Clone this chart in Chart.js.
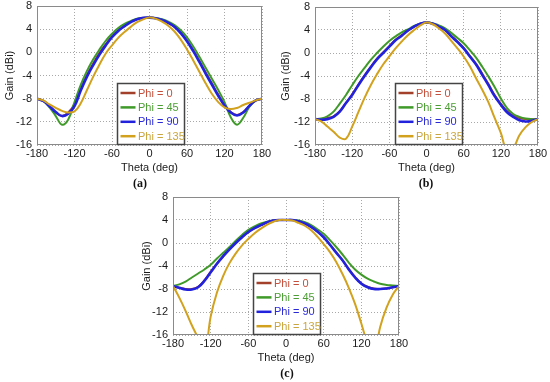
<!DOCTYPE html>
<html><head><meta charset="utf-8">
<script src="https://cdn.jsdelivr.net/npm/chart.js@4"></script>
<style>
html,body{margin:0;padding:0;background:#fff;width:550px;height:382px;overflow:hidden;position:relative;}
canvas{position:absolute;}
.cap{position:absolute;font-family:"Liberation Serif","Times New Roman",serif;font-size:12px;font-weight:bold;color:#111;transform:translate(-50%,-50%);white-space:nowrap;}
</style></head><body>
<canvas id="ca" width="275" height="190" style="left:0;top:0"></canvas>
<canvas id="cb" width="275" height="190" style="left:275px;top:0"></canvas>
<canvas id="cc" width="280" height="192" style="left:130px;top:190px"></canvas>
<div class="cap" style="left:140px;top:183px">(a)</div>
<div class="cap" style="left:426px;top:183px">(b)</div>
<div class="cap" style="left:287px;top:373px">(c)</div>
<script>
const theta = [-180,-170,-160,-150,-140,-130,-120,-110,-100,-90,-80,-70,-60,-50,-40,-30,-20,-10,0,10,20,30,40,50,60,70,80,90,100,110,120,130,140,150,160,170,180];
const xTicks = [-180,-120,-60,0,60,120,180];
const yTicks = [-16,-12,-8,-4,0,4,8];
const seriesLabels = ["Phi = 0","Phi = 45","Phi = 90","Phi = 135"];

// (a)
const a_phi0   = [-8.0,-8.4,-9.3,-10.4,-11.0,-10.4,-8.9,-6.3,-3.9,-1.9,-0.1,1.4,2.8,3.8,4.6,5.3,5.7,5.95,6.0,5.9,5.6,5.1,4.4,3.4,2.0,0.4,-1.5,-3.5,-5.4,-7.3,-9.0,-10.3,-10.8,-10.3,-9.2,-8.3,-8.0];
const a_phi45  = [-8.0,-8.4,-9.5,-11.0,-12.5,-11.6,-8.6,-5.6,-3.2,-1.2,0.5,2.0,3.2,4.2,4.9,5.4,5.8,5.95,6.0,5.9,5.7,5.3,4.7,3.8,2.6,1.0,-0.8,-2.7,-4.6,-6.5,-8.6,-11.2,-12.5,-11.3,-9.4,-8.3,-8.0];
const a_phi90  = [-8.0,-8.4,-9.3,-10.3,-11.0,-10.6,-9.3,-6.6,-4.2,-2.2,-0.4,1.2,2.6,3.7,4.5,5.2,5.7,5.95,6.0,5.9,5.6,5.1,4.4,3.3,1.9,0.2,-1.7,-3.7,-5.6,-7.5,-9.2,-10.4,-10.9,-10.4,-9.2,-8.3,-8.0];
const a_phi135 = [-8.0,-8.3,-9.0,-9.6,-10.1,-10.4,-10.2,-8.8,-6.5,-4.2,-2.1,-0.2,1.2,2.5,3.5,4.4,5.2,5.7,6.0,5.8,5.3,4.6,3.6,2.2,0.5,-1.4,-3.4,-5.4,-7.2,-8.6,-9.5,-9.8,-9.6,-9.1,-8.7,-8.3,-8.0];
// (b)
const b_phi0   = [-11.5,-11.5,-11.3,-11.0,-10.1,-8.7,-7.2,-5.5,-3.9,-2.4,-1.0,0.1,1.2,2.3,3.1,3.9,4.6,5.1,5.3,5.1,4.6,4.0,3.0,2.0,0.9,-0.5,-1.9,-3.6,-5.4,-7.3,-8.8,-10.1,-10.9,-11.3,-11.5,-11.5,-11.5];
const b_phi45  = [-11.5,-11.4,-11.0,-10.2,-8.8,-7.3,-5.6,-4.0,-2.6,-1.2,0.0,1.1,2.1,2.9,3.6,4.1,4.7,5.1,5.3,5.2,4.8,4.3,3.5,2.6,1.7,0.5,-0.8,-2.4,-4.1,-5.9,-7.9,-9.6,-10.6,-11.1,-11.4,-11.5,-11.5];
const b_phi90  = [-11.5,-11.6,-11.5,-11.1,-10.2,-8.7,-7.3,-5.6,-4.0,-2.5,-1.1,0.0,1.1,2.2,3.0,3.9,4.6,5.1,5.3,5.1,4.6,4.0,2.9,1.9,0.8,-0.6,-2.0,-3.8,-5.6,-7.5,-9.0,-10.3,-11.1,-11.7,-11.9,-11.8,-11.5];
const b_phi135 = [-11.5,-11.9,-12.8,-13.7,-14.7,-14.9,-12.8,-10.3,-7.8,-5.6,-3.7,-2.0,-0.6,0.8,2.0,3.1,4.0,4.8,5.3,5.0,4.3,3.4,2.1,0.8,-0.6,-2.3,-4.4,-6.4,-8.6,-11.3,-13.9,-17.0,-16.5,-14.3,-12.9,-12.0,-11.5];
// (c)
const c_phi0   = [-7.5,-7.8,-8.0,-8.0,-7.6,-6.5,-5.0,-3.6,-2.3,-1.1,0.0,1.0,1.9,2.6,3.1,3.6,3.9,4.0,4.0,4.0,3.8,3.4,2.8,2.0,1.0,-0.3,-1.6,-3.0,-4.5,-5.9,-7.0,-7.6,-7.9,-8.0,-7.9,-7.7,-7.5];
const c_phi45  = [-7.5,-7.2,-6.7,-6.0,-5.3,-4.6,-3.8,-2.7,-1.7,-0.7,0.4,1.4,2.3,2.9,3.4,3.7,3.9,4.0,4.0,4.0,3.9,3.6,3.1,2.4,1.6,0.5,-0.7,-2.0,-3.4,-4.6,-5.5,-6.2,-6.7,-7.1,-7.3,-7.4,-7.5];
const c_phi90  = [-7.5,-7.8,-8.1,-8.1,-7.7,-6.6,-5.1,-3.6,-2.3,-1.1,0.0,1.0,1.9,2.6,3.1,3.6,3.9,4.0,4.0,4.0,3.8,3.4,2.8,2.0,1.0,-0.3,-1.7,-3.0,-4.6,-6.0,-7.1,-7.7,-8.0,-8.0,-7.9,-7.7,-7.5];
const c_phi135 = [-7.5,-9.5,-11.8,-14.3,-16.6,-19.5,-12.8,-8.6,-5.7,-3.5,-1.8,-0.4,0.7,1.7,2.5,3.2,3.7,4.0,4.0,3.9,3.5,3.0,2.2,1.1,-0.2,-1.6,-3.3,-5.4,-7.8,-10.6,-14.0,-17.5,-19.5,-14.6,-11.3,-9.0,-7.5];

const lineColors = ['#a3402c','#3f9a2a','#2222dd','#d2a21e'];
const textColors = ['#c4503c','#4c9e34','#2a2ad6','#caa63e'];
const lineWidths = [2,2,2.6,2];
const drawOrder  = [3,2,1,0];
const FONT = '"Liberation Sans", Arial, sans-serif';

const framePlugin = {
  id: 'frameLegend',
  afterDatasetsDraw(chart) {
    const {ctx, chartArea: a} = chart;
    ctx.save();
    ctx.strokeStyle = '#8a8a8a';
    ctx.lineWidth = 1;
    ctx.strokeRect(Math.round(a.left) + 0.5, Math.round(a.top) + 0.5, Math.round(a.right - a.left) - 1, Math.round(a.bottom - a.top) - 1);
    const bx = Math.round(a.left + 80) + 0.5, bw = 67, bh = 62;
    const by = Math.round(a.bottom - bh) + 0.5;
    ctx.fillStyle = '#fff';
    ctx.fillRect(bx, by, bw, bh - 1);
    ctx.strokeStyle = '#444';
    ctx.lineWidth = 1.5;
    ctx.strokeRect(bx, by, bw, bh - 1);
    ctx.font = '11px ' + FONT;
    ctx.textBaseline = 'middle';
    ctx.textAlign = 'left';
    chart.data.datasets.forEach((ds, i) => {
      const y = by + 9.5 + i * 14.4;
      ctx.strokeStyle = ds.borderColor;
      ctx.lineWidth = 2.5;
      ctx.beginPath(); ctx.moveTo(bx + 3, y); ctx.lineTo(bx + 18, y); ctx.stroke();
      ctx.fillStyle = textColors[i];
      ctx.fillText(ds.label, bx + 20.5, y + 0.5);
    });
    ctx.restore();
  }
};

function makeChart(id, series, cfg) {
  const datasets = series.map((vals, i) => ({
    label: seriesLabels[i],
    data: theta.map((t, k) => ({x: t, y: vals[k]})),
    borderColor: lineColors[i],
    backgroundColor: lineColors[i],
    borderWidth: lineWidths[i],
    pointRadius: 0,
    tension: 0.4,
    fill: false,
    clip: 0,
    order: drawOrder[i]
  }));
  return new Chart(document.getElementById(id), {
    type: 'line',
    data: {datasets},
    plugins: [framePlugin],
    options: {
      responsive: false,
      animation: false,
      devicePixelRatio: 1,
      layout: {padding: cfg.padding},
      plugins: {legend: {display: false}, tooltip: {enabled: false}},
      scales: {
        x: {
          type: 'linear', min: -180, max: 180,
          afterBuildTicks: s => { s.ticks = xTicks.map(v => ({value: v})); },
          afterFit: s => { s.height = 30; s.paddingLeft = 0; s.paddingRight = 0; },
          ticks: {color: '#1a1a1a', font: {family: FONT, size: 11}, padding: 2, maxRotation: 0, autoSkip: false},
          grid: {color: '#a8a8a8', lineWidth: 1, drawTicks: false},
          border: {display: false, dash: [1, 2]},
          title: {display: true, text: 'Theta (deg)', color: '#1a1a1a', font: {family: FONT, size: 11}, padding: {top: 0, bottom: 0}}
        },
        y: {
          type: 'linear', min: -16, max: 8,
          afterBuildTicks: s => { s.ticks = yTicks.map(v => ({value: v})); },
          afterFit: s => { s.width = cfg.yWidth; s.paddingTop = 0; s.paddingBottom = 0; },
          ticks: {color: '#1a1a1a', font: {family: FONT, size: 11}, padding: 5},
          grid: {color: '#a8a8a8', lineWidth: 1, drawTicks: false},
          border: {display: false, dash: [1, 2]},
          title: {display: true, text: 'Gain (dBi)', color: '#1a1a1a', font: {family: FONT, size: 11}, padding: {top: cfg.titleTop, bottom: 0}}
        }
      }
    }
  });
}

makeChart('ca', [a_phi0, a_phi45, a_phi90, a_phi135], {yWidth: 37, titleTop: 3, padding: {left: 0, top: 6, right: 13, bottom: 15}});
makeChart('cb', [b_phi0, b_phi45, b_phi90, b_phi135], {yWidth: 40, titleTop: 4, padding: {left: 0, top: 7, right: 12, bottom: 15}});
makeChart('cc', [c_phi0, c_phi45, c_phi90, c_phi135], {yWidth: 43, titleTop: 10, padding: {left: 0, top: 7, right: 11, bottom: 17}});
</script>
</body></html>
